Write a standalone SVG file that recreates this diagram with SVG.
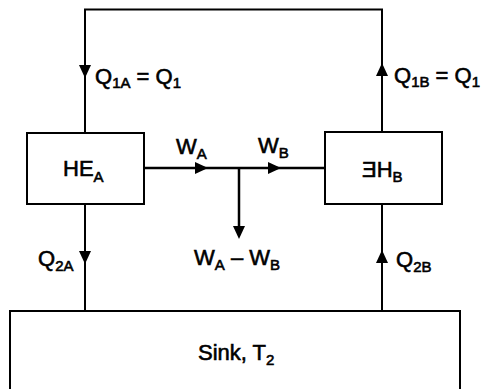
<svg xmlns="http://www.w3.org/2000/svg" width="484" height="389" viewBox="0 0 484 389">
<style>
.box{fill:none;stroke:#000;stroke-width:2}
.ln{fill:none;stroke:#000;stroke-width:2}
.w{stroke-width:2.5}
.t{font-family:"Liberation Sans",Arial,sans-serif;font-size:22px;fill:#000;stroke:#000;stroke-width:0.6}
.s{font-size:15px}
</style>
<defs>
<path id="ah" d="M0,0 L-13,-6 L-13,6 Z" fill="#000"/>
</defs>
<rect width="484" height="389" fill="#fff"/>
<g id="connectors">
<path class="ln" d="M382,132 V9.5 H85 V133"/>
<path class="ln w" d="M144,168 H325"/>
<path class="ln w" d="M239,168 V232"/>
<path class="ln" d="M85,204 V311"/>
<path class="ln" d="M382,311 V204"/>
<use href="#ah" transform="translate(85,78) rotate(90)"/>
<use href="#ah" transform="translate(382,63) rotate(-90)"/>
<use href="#ah" transform="translate(208,168)"/>
<use href="#ah" transform="translate(281,168)"/>
<use href="#ah" transform="translate(239,239) rotate(90)"/>
<use href="#ah" transform="translate(85,264) rotate(90)"/>
<use href="#ah" transform="translate(382,250) rotate(-90)"/>
<text class="t" x="95" y="84">Q<tspan class="s" dy="4">1A</tspan><tspan dy="-4"> = Q</tspan><tspan class="s" dy="4">1</tspan></text>
<text class="t" x="394" y="83">Q<tspan class="s" dy="4">1B</tspan><tspan dy="-4"> = Q</tspan><tspan class="s" dy="4">1</tspan></text>
<text class="t" x="176" y="154">W<tspan class="s" dy="5">A</tspan></text>
<text class="t" x="258" y="153">W<tspan class="s" dy="5">B</tspan></text>
<text class="t" x="194" y="265">W<tspan class="s" dy="5">A</tspan><tspan dy="-5"> – W</tspan><tspan class="s" dy="5">B</tspan></text>
<text class="t" x="38" y="266">Q<tspan class="s" dy="5">2A</tspan></text>
<text class="t" x="396" y="267">Q<tspan class="s" dy="5">2B</tspan></text>
</g>
<g id="HEA">
<rect class="box" x="27" y="133" width="117" height="71"/>
<text class="t" x="63" y="176">HE<tspan class="s" dy="6">A</tspan></text>
</g>
<g id="HEB">
<rect class="box" x="325" y="132" width="117" height="72"/>
<text class="t" x="362" y="177">ƎH<tspan class="s" dy="5">B</tspan></text>
</g>
<g id="sink">
<rect class="box" x="10" y="311" width="450" height="100"/>
<text class="t" x="198" y="360">Sink, T<tspan class="s" dy="5">2</tspan></text>
</g>
</svg>
